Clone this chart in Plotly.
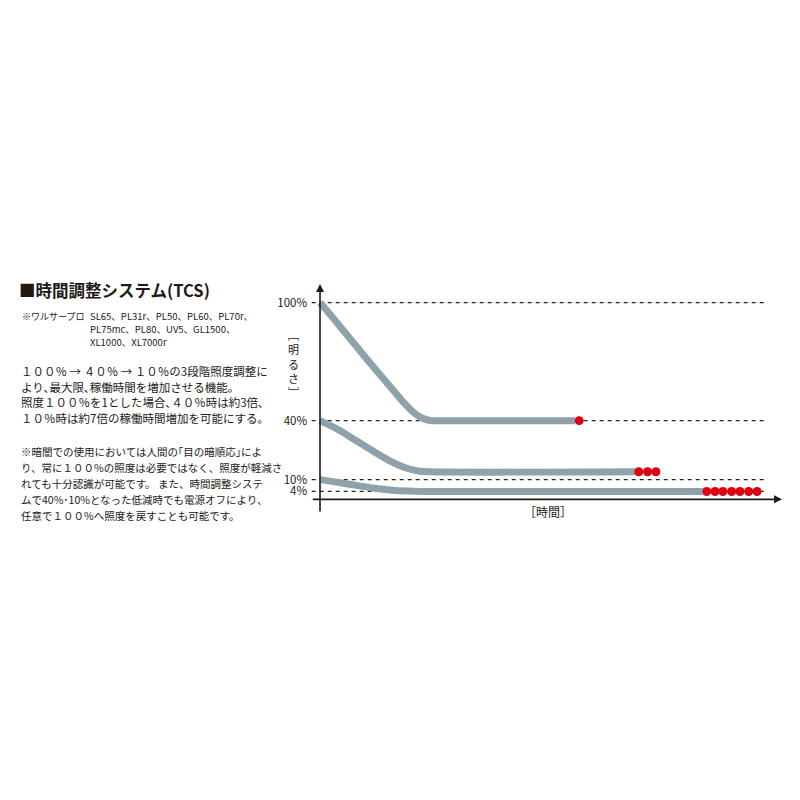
import plotly.graph_objects as go

# ---- data ----
level_values = [100, 40, 10, 4]
level_labels = ["100%", "40%", "10%", "4%"]

time1 = [0, 4.33, 8.66, 12.99, 16.23, 18.40, 19.91, 21.21, 22.51, 23.81, 25.97, 55.2]
bright1 = [100, 87.9, 75.5, 63.3, 54.4, 48.5, 44.9, 42.5, 40.9, 40.1, 40, 40]

time2 = [0, 3.9, 7.6, 11.3, 15.1, 18.8, 21.6, 24.0, 68.2]
bright2 = [40, 35.5, 30.2, 24.8, 19.6, 15.8, 14.3, 14.0, 14.0]

time3 = [0, 3.9, 7.6, 11.3, 15.1, 19.0, 22.0, 82.8]
bright3 = [10, 8.6, 7.2, 5.8, 4.8, 4.2, 4.0, 4.0]

dots1_t = [56.1]
dots1_v = [40]
dots2_t = [69.0, 70.9, 72.7]
dots2_v = [14, 14, 14]
dots3_t = [83.7, 85.5, 87.2, 89.1, 90.9, 92.8, 94.6]
dots3_v = [4, 4, 4, 4, 4, 4, 4]

guide_t = [-1.8, 96.8]

title = "■時間調整システム(TCS)"
models_head = "※ワルサープロ"
models_lines = ["SL65、PL31r、PL50、PL60、PL70r、",
                "PL75mc、PL80、UV5、GL1500、",
                "XL1000、XL7000r"]
para1 = ["１００％ → ４０％ → １０％の3段階照度調整に",
         "より､最大限､稼働時間を増加させる機能｡",
         "照度１００％を1とした場合､４０％時は約3倍､",
         "１０％時は約7倍の稼働時間増加を可能にする｡"]
para2 = ["※暗闇での使用においては人間の｢目の暗順応｣によ",
         "り、常に１００%の照度は必要ではなく、照度が軽減さ",
         "れても十分認識が可能です。 また、時間調整システ",
         "ムで40%･10%となった低減時でも電源オフにより、",
         "任意で１００%へ照度を戻すことも可能です。"]

FONT = "Noto Sans CJK JP"
TXT = "#231815"
LINE = "#8fa1ab"
RED = "#dc0011"

OFF = 8  # page body margin
L, T = 300, 271
W, H = 474, 240
R, B = 800 - L - W, 800 - T - H

def px(x):
    return (x - OFF - L) / W

def py(y):
    return (800 - B - (y - OFF)) / H

fig = go.Figure()

# dashed guide lines
for v in level_values:
    fig.add_trace(go.Scatter(x=guide_t, y=[v, v], mode="lines",
                             line=dict(color="#222222", width=1.2, dash="4px,4px"),
                             hoverinfo="skip", showlegend=False))

for t, b in [(time1, bright1), (time2, bright2), (time3, bright3)]:
    fig.add_trace(go.Scatter(x=t, y=b, mode="lines",
                             line=dict(color=LINE, width=7, shape="spline", smoothing=1),
                             hoverinfo="skip", showlegend=False, cliponaxis=False))

for t, v in [(dots1_t, dots1_v), (dots2_t, dots2_v), (dots3_t, dots3_v)]:
    fig.add_trace(go.Scatter(x=t, y=v, mode="markers",
                             marker=dict(color=RED, size=9),
                             hoverinfo="skip", showlegend=False, cliponaxis=False))

annotations = []
# axes with arrows
annotations.append(dict(x=0, y=109.5, ax=0, ay=-7, xref="x", yref="y", axref="x", ayref="y",
                        text="", showarrow=True, arrowhead=2, arrowsize=1, arrowwidth=1.6,
                        arrowcolor=TXT))
annotations.append(dict(x=100, y=0, ax=-1.9, ay=0, xref="x", yref="y", axref="x", ayref="y",
                        text="", showarrow=True, arrowhead=2, arrowsize=1, arrowwidth=1.6,
                        arrowcolor=TXT))
# axis titles
annotations.append(dict(x=px(293), y=py(363), xref="paper", yref="paper",
                        text="﹇<br>明<br>る<br>さ<br>﹈", showarrow=False,
                        font=dict(family=FONT, size=11, color=TXT),
                        xanchor="center", yanchor="middle"))
annotations.append(dict(x=px(548), y=py(511), xref="paper", yref="paper",
                        text="［時間］", showarrow=False,
                        font=dict(family=FONT, size=12, color=TXT),
                        xanchor="center", yanchor="middle"))

# left text block
annotations.append(dict(x=px(17), y=py(290), xref="paper", yref="paper", text="<b>" + title + "</b>",
                        showarrow=False, font=dict(family=FONT, size=16.5, color=TXT),
                        xanchor="left", yanchor="middle"))
annotations.append(dict(x=px(20), y=py(316), xref="paper", yref="paper", text=models_head,
                        showarrow=False, font=dict(family=FONT, size=9, color=TXT),
                        xanchor="left", yanchor="middle"))
for i, s in enumerate(models_lines):
    annotations.append(dict(x=px(88), y=py(316 + 13 * i), xref="paper", yref="paper", text=s,
                            showarrow=False, font=dict(family=FONT, size=9.5, color=TXT),
                            xanchor="left", yanchor="middle"))
for i, s in enumerate(para1):
    annotations.append(dict(x=px(19), y=py(371 + 15.7 * i), xref="paper", yref="paper", text=s,
                            showarrow=False, font=dict(family=FONT, size=11.5, color=TXT),
                            xanchor="left", yanchor="middle"))
for i, s in enumerate(para2):
    annotations.append(dict(x=px(19), y=py(451 + 16 * i), xref="paper", yref="paper", text=s,
                            showarrow=False, font=dict(family=FONT, size=10.5, color=TXT),
                            xanchor="left", yanchor="middle"))

fig.update_layout(
    width=800, height=800,
    margin=dict(l=L, r=R, t=T, b=B, pad=0),
    paper_bgcolor="white", plot_bgcolor="white",
    xaxis=dict(range=[-2.6, 100], showgrid=False, zeroline=False, showline=False,
               showticklabels=False, ticks=""),
    yaxis=dict(range=[-10, 112], showgrid=False, zeroline=False, showline=False,
               tickvals=level_values, ticktext=level_labels, ticks="",
               tickfont=dict(family=FONT, size=11.5, color=TXT)),
    annotations=annotations,
    showlegend=False,
)

fig.write_html("out.html")
